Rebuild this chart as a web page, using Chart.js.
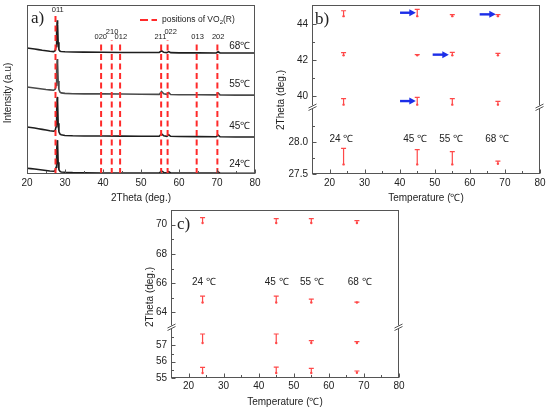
<!DOCTYPE html>
<html>
<head>
<meta charset="utf-8">
<script src="https://cdn.jsdelivr.net/npm/chart.js@4.4.0/dist/chart.umd.min.js"></script>
<style>
  body { margin: 0; background: #fff; }
  #wrap { position: relative; width: 550px; height: 411px; }
  canvas { position: absolute; left: 0; top: 0; pointer-events: none; }
</style>
</head>
<body>
<div id="wrap">
  <canvas id="pa" width="550" height="411"></canvas>
  <canvas id="pbUp" width="550" height="411"></canvas>
  <canvas id="pbLo" width="550" height="411"></canvas>
  <canvas id="pcUp" width="550" height="411"></canvas>
  <canvas id="pcLo" width="550" height="411"></canvas>
</div>
<script>
// ---- panel a: XRD patterns (offset stacked) ----
const twoTheta = [20, 21, 22, 23, 24, 25, 26, 27, 27.4, 27.65, 27.8, 27.95, 28.05, 28.2, 28.4, 28.7, 29, 30,
  32, 35, 40, 45, 50, 54.8, 55.4, 56, 56.8, 57.3, 57.8, 60, 65, 69.8, 70.3, 70.8, 75, 80];
const i24 = [3.4, 3.2, 3.0, 2.7, 2.4, 2.1, 1.8, 1.6, 1.9, 4, 13, 20, 18, 7, 2.5, 1.5, 1.2, 1.0,
  0.8, 0.7, 0.6, 0.6, 0.6, 0.6, 1.8, 0.9, 0.6, 1.4, 0.6, 0.5, 0.5, 0.5, 1.2, 0.5, 0.4, 0.4];
const i45 = [27.8, 27.5, 27.2, 26.8, 26.4, 26.0, 25.6, 25.3, 25.7, 28, 37, 45.6, 43, 30, 25, 23.6, 23.2, 22.8,
  22.6, 22.5, 22.5, 22.4, 22.3, 22.3, 23.8, 22.6, 22.3, 23.2, 22.3, 22.2, 22.1, 22.0, 23.0, 22.0, 21.9, 21.9];
const i55 = [51.5, 51.2, 50.9, 50.6, 50.3, 50.0, 49.8, 49.6, 50.1, 52.5, 61, 68, 65.5, 55, 50, 48.4, 48.0, 47.7,
  47.5, 47.4, 47.4, 47.3, 47.2, 47.1, 48.8, 47.5, 47.1, 48.1, 47.0, 46.9, 46.9, 46.8, 47.9, 46.8, 46.7, 46.7];
const i68 = [74.6, 74.3, 74.0, 73.6, 73.2, 72.9, 72.6, 72.4, 72.9, 75.5, 84, 91, 88.5, 78, 73.5, 72.6, 72.5, 72.3,
  72.2, 72.1, 72.0, 71.9, 71.9, 71.9, 72.9, 72.0, 71.8, 72.4, 71.8, 71.7, 71.7, 71.6, 72.3, 71.6, 71.6, 71.6];
const curveNames = ['24℃', '45℃', '55℃', '68℃'];
const curveLabelX = 76;
const curveLabelY = [5.9, 28.4, 53.3, 75.7];

// positions of VO2(R) reflections
const peakNames = ['011', '020', '210', '012', '211', '022', '013', '202'];
const peakPos = [27.5, 39.5, 42.3, 44.5, 55.3, 57.0, 64.65, 70.1];
const peakTop = [95, 78, 79, 78, 78, 79, 78, 78];
const peakLabelX = [28.1, 39.4, 42.4, 44.7, 55.1, 57.8, 64.9, 70.3];
const peakLabelY = [97, 81, 84.2, 81, 81, 83.8, 81, 81];

// ---- panels b and c: peak position vs temperature ----
const temps = [24, 45, 55, 68];
// b) lower bound (marker) and upper end of bar
const b020Low = [39.52, 39.52, 39.52, 39.52], b020High = [39.86, 39.93, 39.86, 39.70];
const b210Low = [42.26, 42.26, 42.26, 42.26], b210High = [42.41, 42.30, 42.43, 42.37];
const b012Low = [44.44, 44.44, 44.44, 44.44], b012High = [44.74, 44.82, 44.52, 44.52];
const b011Low = [27.65, 27.65, 27.65, 27.66], b011High = [27.90, 27.88, 27.85, 27.70];
// blue arrows in b)
const arrowFrom = [40.1, 49.4, 62.8, 40.1];
const arrowTo = [44.6, 54.0, 67.4, 44.6];
const arrowAt = [44.63, 42.30, 44.54, 39.72];
const bTempLabelX = [23.4, 44.4, 54.7, 67.8];
const bTempLabelY = 28.04;
// c)
const c202Low = [70.11, 70.11, 70.11, 70.11], c202High = [70.48, 70.41, 70.41, 70.27];
const c013Low = [64.68, 64.68, 64.68, 64.68], c013High = [65.11, 65.11, 64.90, 64.70];
const c022Low = [57.15, 57.15, 57.15, 57.15], c022High = [57.70, 57.70, 57.29, 57.23];
const c211Low = [55.31, 55.31, 55.31, 55.32], c211High = [55.65, 55.67, 55.59, 55.43];
const cTempLabelX = [24.4, 45.1, 55.2, 68.8];
const cTempLabelY = 66.07;

// ticks
const xTicks = [20, 30, 40, 50, 60, 70, 80];
const xMinor = [25, 35, 45, 55, 65, 75];
const bUpTicks = [40, 42, 44], bUpMinor = [41, 43];
const bLoTicks = [27.5, 28.0], bLoLabels = ['27.5', '28.0'], bLoMinor = [27.75, 28.25];
const cUpTicks = [64, 66, 68, 70], cUpMinor = [65, 67, 69];
const cLoTicks = [55, 56, 57], cLoMinor = [55.5, 56.5, 57.5];

const RED = 'rgb(255,72,72)';
const BLUE = '#1c2ee8';
const FONT = '"Liberation Sans", Arial, Helvetica, sans-serif';
const SERIF = '"Liberation Serif", "Times New Roman", serif';

// extra drawing per canvas (frame, inward ticks, error bars, labels)
const DECO = {};

const decoPlugin = {
  id: 'deco',
  afterDatasetsDraw(chart) {
    const d = DECO[chart.canvas.id];
    if (!d) return;
    const ctx = chart.ctx, ca = chart.chartArea;
    const sx = chart.scales.x, sy = chart.scales.y;
    ctx.save();

    // error bars (cap on top, marker at the low end)
    chart.data.datasets.forEach((ds, di) => {
      if (!ds.tops) return;
      ctx.strokeStyle = RED;
      ctx.lineWidth = 1.2;
      chart.getDatasetMeta(di).data.forEach((pt, i) => {
        const yt = sy.getPixelForValue(ds.tops[i]);
        ctx.beginPath();
        ctx.moveTo(pt.x, pt.y);
        ctx.lineTo(pt.x, yt);
        ctx.moveTo(pt.x - 2.5, yt);
        ctx.lineTo(pt.x + 2.5, yt);
        ctx.stroke();
      });
    });

    // arrows
    (d.arrows || []).forEach(a => {
      const x1 = sx.getPixelForValue(a[0]), x2 = sx.getPixelForValue(a[1]), y = sy.getPixelForValue(a[2]);
      ctx.strokeStyle = BLUE;
      ctx.fillStyle = BLUE;
      ctx.lineWidth = 2.4;
      ctx.beginPath();
      ctx.moveTo(x1, y);
      ctx.lineTo(x2 - 5, y);
      ctx.stroke();
      ctx.beginPath();
      ctx.moveTo(x2, y);
      ctx.lineTo(x2 - 6.5, y - 3.5);
      ctx.lineTo(x2 - 6.5, y + 3.5);
      ctx.closePath();
      ctx.fill();
    });

    // frame
    const L = Math.round(ca.left) + 0.5, R = Math.round(ca.right) - 0.5;
    const T = Math.round(ca.top) + 0.5, B = Math.round(ca.bottom) - 0.5;
    const top0 = d.cutTop ? Math.round(ca.top) + d.cutTop : T;
    const bot0 = d.cutBottom ? Math.round(ca.bottom) - d.cutBottom : B;
    ctx.strokeStyle = '#555';
    ctx.lineWidth = 1;
    ctx.beginPath();
    if (d.sides.includes('l')) { ctx.moveTo(L, top0); ctx.lineTo(L, bot0); }
    if (d.sides.includes('r')) { ctx.moveTo(R, top0); ctx.lineTo(R, bot0); }
    if (d.sides.includes('t')) { ctx.moveTo(L - 0.5, T); ctx.lineTo(R + 0.5, T); }
    if (d.sides.includes('b')) { ctx.moveTo(L - 0.5, B); ctx.lineTo(R + 0.5, B); }
    // inward ticks
    (d.xMajor || []).forEach(v => { const p = Math.round(sx.getPixelForValue(v)) + 0.5; ctx.moveTo(p, B); ctx.lineTo(p, B - 4); });
    (d.xMinor || []).forEach(v => { const p = Math.round(sx.getPixelForValue(v)) + 0.5; ctx.moveTo(p, B); ctx.lineTo(p, B - 2.5); });
    (d.yMajor || []).forEach(v => { const p = Math.round(sy.getPixelForValue(v)) + 0.5; ctx.moveTo(L, p); ctx.lineTo(L + 4, p); });
    (d.yMinor || []).forEach(v => { const p = Math.round(sy.getPixelForValue(v)) + 0.5; ctx.moveTo(L, p); ctx.lineTo(L + 2.5, p); });
    ctx.stroke();

    // axis break marks
    if (d.breakMark) {
      ctx.beginPath();
      [L, R].forEach(xx => {
        const yy = Math.round(ca.bottom);
        ctx.moveTo(xx - 4, yy + 1); ctx.lineTo(xx + 4, yy - 3);
        ctx.moveTo(xx - 4, yy + 3.5); ctx.lineTo(xx + 4, yy - 0.5);
      });
      ctx.stroke();
    }

    // texts placed at data coordinates
    ctx.fillStyle = '#222';
    ctx.textAlign = 'center';
    ctx.textBaseline = 'middle';
    (d.texts || []).forEach(t => {
      ctx.font = t.size + 'px ' + FONT;
      ctx.fillText(t.s, sx.getPixelForValue(t.x), sy.getPixelForValue(t.y));
    });

    // titles and panel letters
    (d.abs || []).forEach(t => {
      ctx.save();
      ctx.font = t.font;
      ctx.textAlign = t.align || 'center';
      ctx.translate(t.x, t.y);
      if (t.rot) ctx.rotate(-Math.PI / 2);
      ctx.fillText(t.s, 0, 0);
      ctx.restore();
    });

    if (d.legend) {
      ctx.strokeStyle = '#ff2a2a';
      ctx.lineWidth = 2;
      ctx.setLineDash([8, 3.5]);
      ctx.beginPath();
      ctx.moveTo(140, 20); ctx.lineTo(157, 20);
      ctx.stroke();
      ctx.setLineDash([]);
      ctx.textAlign = 'left';
      ctx.font = '8.5px ' + FONT;
      let xx = 162;
      ctx.fillText('positions of VO', xx, 20);
      xx += ctx.measureText('positions of VO').width;
      ctx.font = '6px ' + FONT;
      ctx.fillText('2', xx, 22.5);
      xx += ctx.measureText('2').width;
      ctx.font = '8.5px ' + FONT;
      ctx.fillText('(R)', xx, 20);
    }
    ctx.restore();
  }
};

function fixAxis(size) {
  return s => {
    if (s.isHorizontal()) s.height = size; else s.width = size;
    s.paddingTop = 0; s.paddingBottom = 0; s.paddingLeft = 0; s.paddingRight = 0;
  };
}

function axis(o) {
  return {
    type: 'linear', min: o.min, max: o.max, display: o.show,
    grid: { display: false, drawTicks: false },
    border: { display: false },
    afterBuildTicks: s => { s.ticks = (o.ticks || []).map(v => ({ value: v })); },
    afterFit: fixAxis(o.show ? o.size : 0),
    ticks: {
      padding: o.pad, autoSkip: false, maxRotation: 0, color: '#222',
      font: { family: FONT, size: 10 },
      callback: (v, i) => (o.labels ? o.labels[i] : String(v))
    }
  };
}

function panel(id, box, xs, ys, datasets) {
  const wy = ys.show ? ys.size : 0, hx = xs.show ? xs.size : 0;
  return new Chart(document.getElementById(id), {
    type: 'scatter',
    data: { datasets },
    options: {
      responsive: false, animation: false, events: [],
      layout: { padding: { left: box[0] - wy, top: box[1], right: 550 - box[2], bottom: 411 - box[3] - hx } },
      plugins: { legend: { display: false }, tooltip: { enabled: false } },
      scales: { x: axis(xs), y: axis(ys) }
    },
    plugins: [decoPlugin]
  });
}

const pts = (xs, ys) => xs.map((x, i) => ({ x, y: ys[i] }));
const barSet = (low, high) => ({
  data: pts(temps, low), tops: high, showLine: false,
  pointRadius: 1.2, pointBackgroundColor: RED, pointBorderWidth: 0, borderColor: RED
});

// ---------- panel a ----------
const dashSets = peakPos.map((p, i) => ({
  data: [{ x: p, y: 0 }, { x: p, y: peakTop[i] }],
  showLine: true, borderColor: '#ff2a2a', borderWidth: 2, borderDash: [6, 3.5], pointRadius: 0
}));
const curveSets = [i24, i45, i55, i68].map((c, k) => ({
  data: pts(twoTheta, c), showLine: true, pointRadius: 0,
  borderColor: k === 2 ? '#4a4a4a' : '#1e1e1e', borderWidth: 1.6
}));

DECO.pa = {
  sides: 'lrtb', xMajor: xTicks, xMinor: xMinor, legend: true,
  texts: peakNames.map((s, i) => ({ s, x: peakLabelX[i], y: peakLabelY[i], size: 7.5 }))
    .concat(curveNames.map((s, i) => ({ s, x: curveLabelX, y: curveLabelY[i], size: 10 }))),
  abs: [
    { s: '2Theta (deg.)', x: 141, y: 198, font: '10px ' + FONT },
    { s: 'Intensity (a.u)', x: 8, y: 93, rot: true, font: '10px ' + FONT },
    { s: 'a)', x: 31, y: 19, align: 'left', font: '17px ' + SERIF }
  ]
};
panel('pa', [27, 5, 255, 174],
  { min: 20, max: 80, show: true, size: 20, pad: 3, ticks: xTicks },
  { min: 0, max: 100, show: false },
  dashSets.concat(curveSets));

// ---------- panel b ----------
DECO.pbUp = {
  sides: 'lrt', cutBottom: 1.5, breakMark: true, yMajor: bUpTicks, yMinor: bUpMinor,
  arrows: arrowFrom.map((f, i) => [f, arrowTo[i], arrowAt[i]]),
  abs: [
    { s: 'b)', x: 315, y: 20, align: 'left', font: '17px ' + SERIF },
    { s: '2Theta (deg.)', x: 281, y: 100, rot: true, font: '10px ' + FONT }
  ]
};
panel('pbUp', [312, 5, 540, 107],
  { min: 15, max: 80, show: false, ticks: xTicks },
  { min: 39.39, max: 45.06, show: true, size: 30, pad: 4, ticks: bUpTicks },
  [barSet(b020Low, b020High), barSet(b210Low, b210High), barSet(b012Low, b012High)]);

DECO.pbLo = {
  sides: 'lrb', cutTop: 1.5, xMajor: xTicks, xMinor: xMinor, yMajor: bLoTicks, yMinor: bLoMinor,
  texts: temps.map((t, i) => ({ s: t + ' ℃', x: bTempLabelX[i], y: bTempLabelY, size: 10 })),
  abs: [{ s: 'Temperature (℃)', x: 426, y: 198, font: '10px ' + FONT }]
};
panel('pbLo', [312, 107, 540, 174],
  { min: 15, max: 80, show: true, size: 20, pad: 3, ticks: xTicks },
  { min: 27.5, max: 28.547, show: true, size: 30, pad: 4, ticks: bLoTicks, labels: bLoLabels },
  [barSet(b011Low, b011High)]);

// ---------- panel c ----------
DECO.pcUp = {
  sides: 'lrt', cutBottom: 1.5, breakMark: true, yMajor: cUpTicks, yMinor: cUpMinor,
  texts: temps.map((t, i) => ({ s: t + ' ℃', x: cTempLabelX[i], y: cTempLabelY, size: 10 })),
  abs: [
    { s: 'c)', x: 177, y: 225, align: 'left', font: '17px ' + SERIF },
    { s: '2Theta (deg.)', x: 150, y: 297, rot: true, font: '10px ' + FONT }
  ]
};
panel('pcUp', [171, 210, 399, 327],
  { min: 15, max: 80, show: false, ticks: xTicks },
  { min: 63, max: 71, show: true, size: 30, pad: 4, ticks: cUpTicks },
  [barSet(c202Low, c202High), barSet(c013Low, c013High)]);

DECO.pcLo = {
  sides: 'lrb', cutTop: 1.5, xMajor: xTicks, xMinor: xMinor, yMajor: cLoTicks, yMinor: cLoMinor,
  abs: [{ s: 'Temperature (℃)', x: 285, y: 402, font: '10px ' + FONT }]
};
panel('pcLo', [171, 327, 399, 378],
  { min: 15, max: 80, show: true, size: 20, pad: 2, ticks: xTicks },
  { min: 55, max: 58.13, show: true, size: 30, pad: 4, ticks: cLoTicks },
  [barSet(c022Low, c022High), barSet(c211Low, c211High)]);
</script>
</body>
</html>
